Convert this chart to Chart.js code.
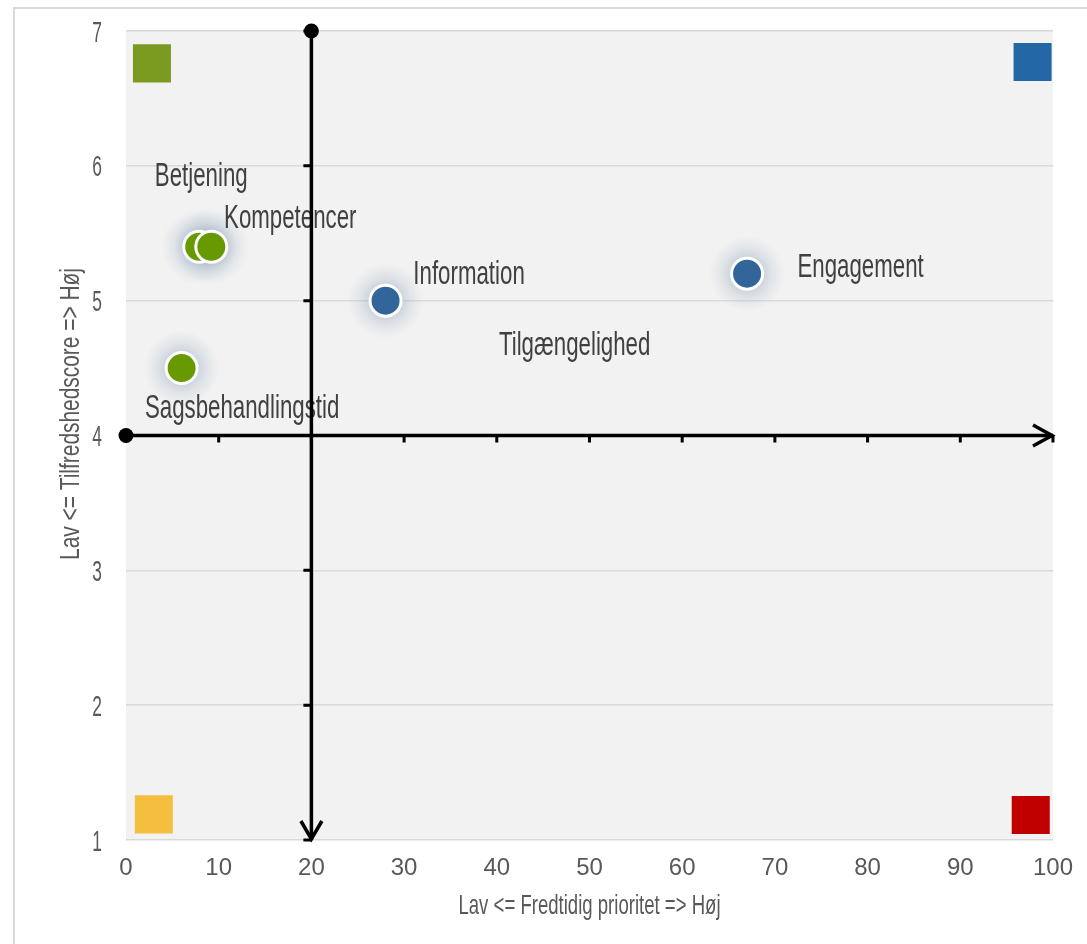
<!DOCTYPE html>
<html>
<head>
<meta charset="utf-8">
<script src="https://cdn.jsdelivr.net/npm/chart.js@4/dist/chart.umd.min.js"></script>
<style>
  html, body { margin: 0; padding: 0; background: #ffffff; }
  #frame { position: absolute; left: 13px; top: 7px; width: 1100px; height: 960px;
           border-left: 2px solid #d9d9d9; border-top: 2px solid #d9d9d9; box-sizing: border-box; }
  #wrap { position: absolute; left: 0; top: 0; width: 1087px; height: 944px; }
</style>
</head>
<body>
<div id="frame"></div>
<div id="wrap"><canvas id="chart" width="1087" height="944"></canvas></div>
<script>
// Områder: fremtidig prioritet (x) mod tilfredshedsscore (y)
const areaNames    = ['Betjening', 'Kompetencer', 'Information', 'Engagement', 'Sagsbehandlingstid', 'Tilgængelighed'];
const priority     = [7.9, 9.2, 28, 67, 6, 48.4];
const satisfaction = [5.4, 5.4, 5.0, 5.2, 4.5, 4.6];
const markerShown  = [true, true, true, true, true, false];

// Kvadrantmarkører i hjørnerne
const cornerX = [2.8, 97.8, 3.0, 97.6];
const cornerY = [6.76, 6.77, 1.19, 1.185];

// Akser
const xTickValues = [0, 10, 20, 30, 40, 50, 60, 70, 80, 90, 100];
const yTickValues = [1, 2, 3, 4, 5, 6, 7];
const crossX = 20;
const crossY = 4;

const xTitle = 'Lav <= Fredtidig prioritet => Høj';
const yTitle = 'Lav <= Tilfredshedscore => Høj';

// Udseende
const cornerColors = ['#7a9b1f', '#2367a4', '#f4bf3f', '#c00000'];
const leftPointColor = '#679a00';
const rightPointColor = '#32659a';
const labelOffsets = [[2, -61], [79, -18.5], [83.5, -16.5], [113.5, 3], [60.5, 50], [0, 0]];
const FONT = '"Liberation Sans", Arial, sans-serif';
const NARROW = 0.675;

function narrowText(ctx, text, x, y, size, color, align, sx, rotate) {
  ctx.save();
  ctx.font = size + 'px ' + FONT;
  ctx.fillStyle = color;
  ctx.textAlign = align;
  ctx.textBaseline = 'alphabetic';
  ctx.translate(x, y);
  if (rotate) ctx.rotate(-Math.PI / 2);
  ctx.scale(sx, 1);
  ctx.fillText(text, 0, 0);
  ctx.restore();
}

const decor = {
  id: 'quadrantDecor',
  beforeDraw(chart) {
    const { ctx, chartArea: a } = chart;
    ctx.save();
    ctx.fillStyle = '#f2f2f2';
    ctx.fillRect(a.left, a.top, a.right - a.left, a.bottom - a.top);
    ctx.restore();
  },
  beforeDatasetsDraw(chart) {
    const ctx = chart.ctx;
    const meta = chart.getDatasetMeta(0);
    // soft halo behind each marker
    meta.data.forEach((pt, i) => {
      if (!markerShown[i]) return;
      const g = ctx.createRadialGradient(pt.x, pt.y, 14, pt.x, pt.y, 38);
      g.addColorStop(0, 'rgba(135,158,180,0.42)');
      g.addColorStop(0.45, 'rgba(150,170,190,0.2)');
      g.addColorStop(1, 'rgba(160,178,195,0)');
      ctx.save();
      ctx.fillStyle = g;
      ctx.beginPath();
      ctx.arc(pt.x, pt.y, 38, 0, Math.PI * 2);
      ctx.fill();
      ctx.restore();
    });
    // category labels
    meta.data.forEach((pt, i) => {
      const [dx, dy] = labelOffsets[i];
      narrowText(ctx, areaNames[i], pt.x + dx, pt.y + dy, 33, '#404040', 'center', NARROW, false);
    });
  },
  afterDatasetsDraw(chart) {
    const ctx = chart.ctx;
    const xs = chart.scales.x, ys = chart.scales.y;
    const cx = xs.getPixelForValue(crossX), cy = ys.getPixelForValue(crossY);
    const top = ys.getPixelForValue(ys.max), bottom = ys.getPixelForValue(ys.min);
    const left = xs.getPixelForValue(xs.min), right = xs.getPixelForValue(xs.max);
    ctx.save();
    ctx.strokeStyle = '#000';
    ctx.fillStyle = '#000';
    ctx.lineWidth = 3.5;
    ctx.lineCap = 'butt';
    ctx.beginPath();
    ctx.moveTo(cx, top); ctx.lineTo(cx, bottom);
    ctx.moveTo(left, cy); ctx.lineTo(right, cy);
    ctx.stroke();
    // tick marks along the crossing axes
    ctx.lineWidth = 3;
    ctx.beginPath();
    yTickValues.forEach(v => { const p = ys.getPixelForValue(v); ctx.moveTo(cx - 8, p); ctx.lineTo(cx, p); });
    xTickValues.forEach(v => { const p = xs.getPixelForValue(v); ctx.moveTo(p, cy); ctx.lineTo(p, cy + 7); });
    ctx.stroke();
    // arrow heads
    ctx.lineWidth = 3.5;
    ctx.lineJoin = 'miter';
    ctx.beginPath();
    ctx.moveTo(cx - 10.5, bottom - 19); ctx.lineTo(cx, bottom - 1); ctx.lineTo(cx + 10.5, bottom - 19);
    ctx.moveTo(right - 20, cy - 10.5); ctx.lineTo(right - 1, cy); ctx.lineTo(right - 20, cy + 10.5);
    ctx.stroke();
    // end dots
    ctx.beginPath(); ctx.arc(cx, top, 7.5, 0, Math.PI * 2); ctx.fill();
    ctx.beginPath(); ctx.arc(left, cy, 7.5, 0, Math.PI * 2); ctx.fill();
    ctx.restore();
  },
  afterDraw(chart) {
    const ctx = chart.ctx;
    const ys = chart.scales.y;
    yTickValues.forEach(v => {
      narrowText(ctx, String(v), 102, ys.getPixelForValue(v) + 10.5, 29, '#595959', 'right', 0.6, false);
    });
    const a = chart.chartArea;
    narrowText(ctx, xTitle, (a.left + a.right) / 2, 914, 27.5, '#595959', 'center', NARROW, false);
    narrowText(ctx, yTitle, 79, 414, 27.5, '#595959', 'center', 0.76, true);
  }
};

const pointData = priority.map((x, i) => ({ x, y: satisfaction[i] }));
const cornerData = cornerX.map((x, i) => ({ x, y: cornerY[i] }));

new Chart(document.getElementById('chart'), {
  type: 'scatter',
  data: {
    datasets: [
      {
        label: 'Områder',
        data: pointData,
        pointRadius: c => markerShown[c.dataIndex] ? 15.5 : 0,
        pointBorderWidth: 3,
        pointBorderColor: '#ffffff',
        pointBackgroundColor: c => {
          const p = c.raw;
          return p && p.x < crossX ? leftPointColor : rightPointColor;
        }
      },
      {
        label: 'Kvadranter',
        data: cornerData,
        pointStyle: 'rect',
        pointRadius: 26.9,
        pointBorderWidth: 0,
        pointBackgroundColor: cornerColors
      }
    ]
  },
  options: {
    responsive: false,
    animation: false,
    events: [],
    layout: { padding: { top: 31, right: 34, left: 0, bottom: 0 } },
    plugins: { legend: { display: false }, tooltip: { enabled: false } },
    scales: {
      x: {
        type: 'linear', min: 0, max: 100,
        afterBuildTicks: s => { s.ticks = xTickValues.map(v => ({ value: v })); },
        afterFit: s => { s.height = 104; },
        grid: { display: false, drawTicks: false },
        border: { display: false },
        ticks: { padding: 14, color: '#595959', font: { family: FONT, size: 24 } }
      },
      y: {
        type: 'linear', min: 1, max: 7,
        afterBuildTicks: s => { s.ticks = yTickValues.map(v => ({ value: v })); },
        afterFit: s => { s.width = 126; },
        grid: { color: '#d9d9d9', lineWidth: 1.5, drawTicks: false },
        border: { display: false },
        ticks: { display: false }
      }
    }
  },
  plugins: [decor]
});
</script>
</body>
</html>
